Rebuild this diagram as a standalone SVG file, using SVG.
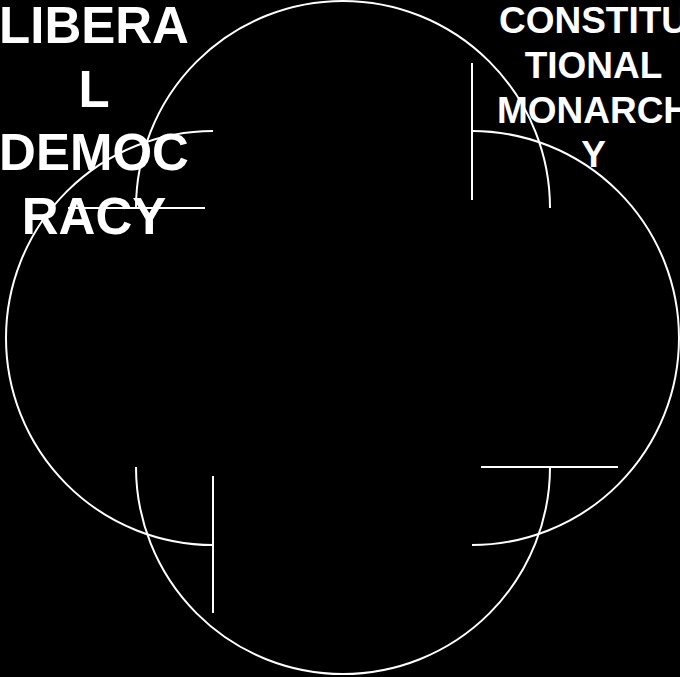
<svg xmlns="http://www.w3.org/2000/svg" width="680" height="677" viewBox="0 0 680 677">
<style>
.c{fill:none;stroke:#fff;stroke-width:2}
.t{fill:#fff;font-family:"Liberation Sans",Arial,sans-serif;font-weight:bold;text-anchor:middle}
</style>
<rect width="680" height="677" fill="#000"/>
<g id="connectors">
<path class="c" d="M136,208 A207,207 0 0 1 550,208"/>
<path class="c" d="M472,131 A207,207 0 0 1 472,545"/>
<path class="c" d="M550,467 A207,207 0 0 1 136,467"/>
<path class="c" d="M213,545 A207,207 0 0 1 213,131"/>
<path class="c" d="M68,208 H205"/>
<path class="c" d="M472,63 V200"/>
<path class="c" d="M481,467 H618"/>
<path class="c" d="M213,476 V613"/>
</g>
<g id="liberal-democracy">
<text class="t" font-size="51"><tspan x="94" y="43">LIBERA</tspan><tspan x="94" y="106.5">L</tspan><tspan x="94" y="170">DEMOC</tspan><tspan x="94" y="233.5">RACY</tspan></text>
</g>
<g id="constitutional-monarchy">
<text class="t" font-size="37"><tspan x="593.5" y="33">CONSTITU</tspan><tspan x="593.5" y="78">TIONAL</tspan><tspan x="593.5" y="122.5">MONARCH</tspan><tspan x="593.5" y="167">Y</tspan></text>
</g>
</svg>
